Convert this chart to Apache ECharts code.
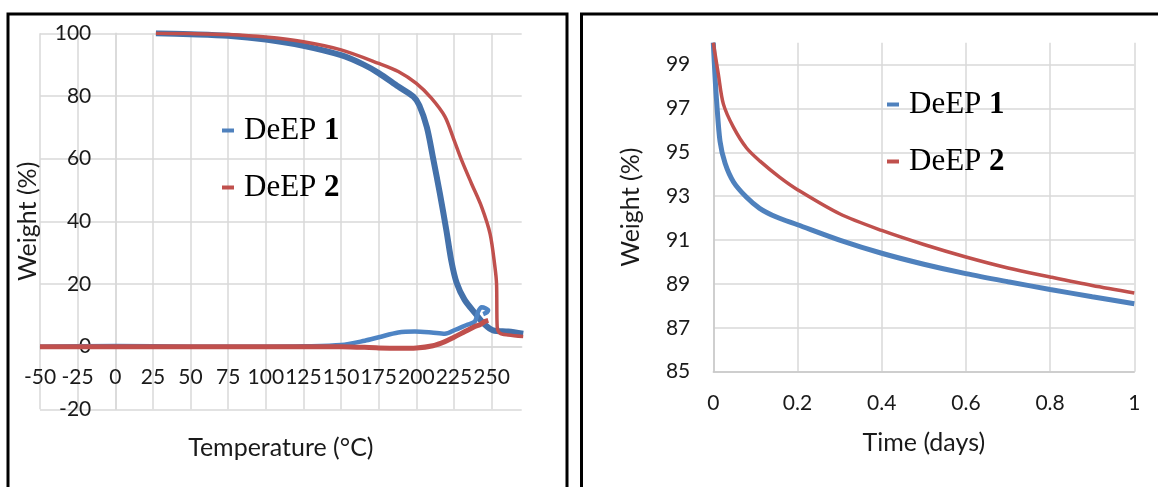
<!DOCTYPE html>
<html>
<head>
<meta charset="utf-8">
<script src="https://cdn.jsdelivr.net/npm/echarts@6/dist/echarts.min.js"></script>
<style>
html,body{margin:0;padding:0;background:#fff;}
#chart{width:1158px;height:487px;}
</style>
</head>
<body>
<div id="chart"></div>
<script>
// ---- Left panel: weight vs temperature ----
const tempTicks = [-50,-25,0,25,50,75,100,125,150,175,200,225,250];
const deep1MainT = [27,50,75,100,125,150,165,175,188,198,202,207,211,215.6,220,223.4,226.7,232,239,245.5,251,261,271];
const deep1MainW = [100,99.7,99.2,98,96,93,90,87.3,83,79.8,77,70,60.5,49,37,27,20.5,15,10.7,7,5.2,4.8,4.1];
const deep1LowT = [-50,0,50,100,125,150,165.8,175,188,199,210,219,225.6,233.4,238.9,241.1,243.4,246.2,247.7,247,244.4];
const deep1LowW = [0,0.2,0,0,0.1,0.5,1.9,3.0,4.5,4.8,4.5,4.1,5.3,6.9,8.0,11.2,12.6,12.2,11.6,11.0,10.4];
const deep2MainT = [27,50,75,100,125,150,175,188,200,210,219,225,230,236.7,243.3,249,252.2,253.3,253.7,255.5,261,271];
const deep2MainW = [100,99.9,99.6,98.8,97.3,94.7,90.4,87.8,84,79.3,73.4,66,59.6,52,44.7,36,25.5,20,6.4,4.3,3.7,3.2];
const deep2LowT = [-50,0,50,100,150,175,189,200,211,219,225,232.3,238.9,242.2,245.5,247.8];
const deep2LowW = [0,0,0,0,0,-0.4,-0.5,-0.4,0.3,1.6,3.0,4.8,6.4,7.0,8.0,8.4];
// ---- Right panel: weight vs time ----
const timeTicks = [0,0.2,0.4,0.6,0.8,1];
const deep1TimeD = [0,0.004,0.008,0.016,0.028,0.048,0.079,0.11,0.15,0.2,0.3,0.4,0.5,0.6,0.7,0.8,0.9,1.0];
const deep1TimeW = [100,98.5,97.3,95.5,94.5,93.65,92.95,92.45,92.05,91.7,91.0,90.4,89.9,89.47,89.1,88.75,88.42,88.1];
const deep2TimeD = [0,0.012,0.024,0.048,0.079,0.111,0.158,0.2,0.3,0.4,0.5,0.6,0.7,0.8,0.9,1.0];
const deep2TimeW = [100,98.56,97.2,96.14,95.2,94.6,93.86,93.3,92.2,91.44,90.8,90.23,89.73,89.32,88.93,88.59];
const seriesNames = ['DeEP 1','DeEP 2'];

const zip = (a,b) => a.map((v,i)=>[v,b[i]]);
const BLUE = '#4F81BD', BLUE_DARK = '#4471AA', RED = '#C0504D';
const GRID = '#D9D9D9';
const TXT = '#1a1a1a';
const tickFont = {fontFamily:'Lato', fontSize:21, color:TXT};
const nameFont = {fontFamily:'Lato', fontSize:25, color:TXT};

// left grid geometry (pixels) used to place axes through the origin
const L = {left:40, top:33.3, width:481.7, height:376};
const xMin = -50, xMax = 270, yMin = -20, yMax = 100;
const yAxisShift = -(0 - xMin) / (xMax - xMin) * L.width;   // move y axis to x = 0
const xAxisShift = -(0 - yMin) / (yMax - yMin) * L.height;  // move x axis to y = 0

function legendCfg(left, top){
  return {
    orient:'vertical', left:left, top:top, icon:'rect', itemWidth:12, itemHeight:4, itemGap:26,
    data:[{name:seriesNames[0], itemStyle:{color:BLUE}},{name:seriesNames[1], itemStyle:{color:RED}}],
    formatter: n => { const p = n.split(' '); return '{n|'+p[0]+' }{b|'+p[1]+'}'; },
    textStyle:{ padding:[0,0,0,5], rich:{
      n:{fontFamily:'Liberation Serif', fontSize:31, color:'#000', lineHeight:36},
      b:{fontFamily:'Liberation Serif', fontSize:31, fontWeight:'bold', color:'#000', lineHeight:36}
    }}
  };
}

const chart = echarts.init(document.getElementById('chart'), null, {renderer:'canvas'});
chart.setOption({
  animation:false,
  backgroundColor:'#fff',
  graphic:[
    {type:'rect', shape:{x:8, y:14, width:559, height:520}, style:{fill:'none', stroke:'#000', lineWidth:3}, z:100},
    {type:'rect', shape:{x:581.5, y:14, width:620, height:520}, style:{fill:'none', stroke:'#000', lineWidth:3}, z:100}
  ],
  legend:[legendCfg(217,110), legendCfg(882,84)],
  grid:[
    {left:L.left, top:L.top, width:L.width, height:L.height, containLabel:false, outerBoundsMode:'none'},
    {left:713.3, top:42.7, width:421, height:329, containLabel:false, outerBoundsMode:'none'}
  ],
  xAxis:[
    {gridIndex:0, type:'value', min:xMin, max:xMax, interval:25, offset:xAxisShift,
     name:'Temperature (°C)', nameLocation:'middle', nameGap:88.5, nameTextStyle:nameFont,
     axisLine:{onZero:false, lineStyle:{color:GRID, width:1.5}}, axisTick:{show:false},
     axisLabel:Object.assign({margin:20, showMaxLabel:false}, tickFont),
     splitLine:{show:true, showMaxLine:false, lineStyle:{color:GRID, width:1.5}}},
    {gridIndex:1, type:'value', min:0, max:1, interval:0.2,
     name:'Time (days)', nameLocation:'middle', nameGap:59, nameTextStyle:nameFont,
     axisLine:{onZero:false, lineStyle:{color:'#C8C8C8', width:1.5}}, axisTick:{show:false},
     axisLabel:Object.assign({margin:21}, tickFont),
     splitLine:{show:true, lineStyle:{color:GRID, width:1.5}}}
  ],
  yAxis:[
    {gridIndex:0, type:'value', min:yMin, max:yMax, interval:20, offset:yAxisShift,
     name:'Weight (%)', nameLocation:'middle', nameGap:74.5, nameTextStyle:nameFont,
     axisLine:{show:true, onZero:false, lineStyle:{color:GRID, width:1.5}}, axisTick:{show:false},
     axisLabel:Object.assign({margin:24}, tickFont),
     splitLine:{show:true, lineStyle:{color:GRID, width:1.5}}},
    {gridIndex:1, type:'value', min:85, max:100, interval:2,
     name:'Weight (%)', nameLocation:'middle', nameGap:70, nameTextStyle:nameFont,
     axisLine:{show:true, onZero:false, lineStyle:{color:'#C8C8C8', width:1.5}}, axisTick:{show:false},
     axisLabel:Object.assign({margin:23, showMaxLabel:false}, tickFont),
     splitLine:{show:true, showMaxLine:false, lineStyle:{color:GRID, width:1.5}}}
  ],
  series:[
    {name:seriesNames[0], type:'line', xAxisIndex:0, yAxisIndex:0, data:zip(deep1MainT,deep1MainW), smooth:0.3, showSymbol:false, color:BLUE, lineStyle:{color:BLUE_DARK, width:6}, z:2},
    {name:seriesNames[1], type:'line', xAxisIndex:0, yAxisIndex:0, data:zip(deep2MainT,deep2MainW), smooth:0.3, showSymbol:false, color:RED, lineStyle:{color:RED, width:3.5}, z:3},
    {name:seriesNames[0], type:'line', xAxisIndex:0, yAxisIndex:0, data:zip(deep1LowT,deep1LowW), smooth:0.3, showSymbol:false, color:BLUE, lineStyle:{color:'#4E84C4', width:4.5}, z:4},
    {name:seriesNames[1], type:'line', xAxisIndex:0, yAxisIndex:0, data:zip(deep2LowT,deep2LowW), smooth:0.3, showSymbol:false, color:RED, lineStyle:{color:RED, width:5}, z:5},
    {name:seriesNames[0], type:'line', xAxisIndex:1, yAxisIndex:1, data:zip(deep1TimeD,deep1TimeW), smooth:0.3, showSymbol:false, color:BLUE, lineStyle:{color:BLUE, width:5}, z:2},
    {name:seriesNames[1], type:'line', xAxisIndex:1, yAxisIndex:1, data:zip(deep2TimeD,deep2TimeW), smooth:0.3, showSymbol:false, color:RED, lineStyle:{color:RED, width:3.5}, z:3}
  ]
});
</script>
</body>
</html>
